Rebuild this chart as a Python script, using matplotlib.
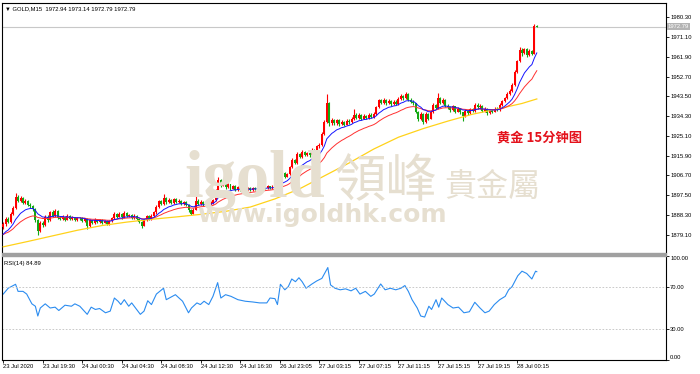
import matplotlib
matplotlib.use('Agg')
import matplotlib.pyplot as plt
from matplotlib.patches import Rectangle
import matplotlib.transforms as mtrans

W, H = 700, 374

# 15-minute gold bars, 23 Jul 15:30 .. 28 Jul 02:15
closes = [
    1884.0, 1886.5, 1885.2, 1889.0, 1891.5, 1896.8, 1895.0, 1896.2, 1894.0, 1894.8,
    1893.0, 1892.5, 1891.0, 1886.0, 1881.0, 1884.5, 1883.5, 1887.5, 1886.0, 1889.5,
    1888.0, 1890.0, 1887.0, 1886.5, 1887.5, 1886.2, 1887.8, 1886.5, 1887.2, 1886.0,
    1887.0, 1886.8, 1885.6, 1886.4, 1883.0, 1885.8, 1884.6, 1886.2, 1885.0, 1886.0,
    1884.8, 1885.5, 1884.2, 1885.6, 1886.8, 1889.0, 1887.6, 1888.8, 1887.2, 1889.4,
    1887.8, 1888.3, 1887.0, 1888.0, 1886.4, 1885.2, 1883.4, 1885.8, 1887.8, 1886.6,
    1888.0, 1889.5, 1892.0, 1894.6, 1893.5, 1896.0, 1894.2, 1895.4, 1894.0, 1895.6,
    1894.4, 1895.0, 1893.6, 1894.2, 1893.0, 1890.5, 1889.0, 1890.8, 1895.0, 1893.6,
    1894.5, 1893.2, 1894.4, 1893.0, 1894.0, 1895.2, 1899.5, 1904.6, 1902.0, 1903.0,
    1901.2, 1902.5, 1900.6, 1901.8, 1900.0, 1901.4, 1900.2, 1901.0, 1899.8, 1900.8,
    1900.0, 1900.9, 1900.4, 1901.2, 1900.6, 1901.4, 1900.8, 1901.6, 1901.0, 1901.8,
    1901.2, 1902.0, 1906.8, 1908.0, 1906.2, 1907.4, 1910.5, 1913.8, 1912.6, 1916.5,
    1915.2, 1917.8, 1916.4, 1917.0, 1916.0, 1918.6, 1917.6, 1920.2, 1921.0, 1926.0,
    1931.5, 1940.5, 1931.0, 1932.6, 1931.0, 1932.4, 1930.6, 1931.8, 1930.4, 1932.2,
    1931.4, 1933.0, 1935.0, 1933.6, 1934.8, 1933.2, 1934.6, 1933.4, 1935.0, 1934.0,
    1935.4, 1938.4, 1941.6, 1940.4, 1941.8, 1940.2, 1941.4, 1939.8, 1941.0, 1940.0,
    1942.2, 1943.8, 1942.6, 1944.6, 1942.0, 1941.0, 1940.2, 1936.4, 1933.0, 1935.2,
    1931.6, 1935.4, 1933.2, 1936.0, 1939.4, 1938.2, 1942.6, 1940.4, 1941.8, 1939.0,
    1938.6, 1937.0, 1938.8, 1936.4, 1937.6, 1936.0, 1934.2, 1936.6, 1935.6, 1937.4,
    1936.8, 1939.6, 1938.4, 1939.2, 1936.6, 1937.6, 1935.8, 1937.0, 1936.4, 1937.8,
    1937.2, 1939.4, 1941.2, 1942.6, 1944.8, 1946.0, 1948.8, 1954.8, 1959.8, 1965.0,
    1963.6, 1965.4, 1962.8, 1964.6, 1963.4, 1976.3, 1975.9,
]
highs = [
    1885.0, 1887.2, 1887.4, 1889.8, 1892.4, 1898.4, 1897.6, 1897.0, 1896.8, 1895.6,
    1895.4, 1893.8, 1893.0, 1891.6, 1886.6, 1885.4, 1885.6, 1888.4, 1888.2, 1890.2,
    1890.4, 1891.2, 1890.6, 1887.8, 1888.2, 1888.0, 1888.6, 1888.2, 1887.8, 1887.6,
    1887.6, 1887.5, 1887.2, 1887.0, 1886.8, 1886.4, 1886.2, 1886.8, 1886.6, 1886.6,
    1886.4, 1886.2, 1885.9, 1886.2, 1887.4, 1889.8, 1889.4, 1889.6, 1889.2, 1890.0,
    1889.8, 1889.0, 1888.8, 1888.6, 1888.4, 1886.8, 1885.6, 1886.4, 1888.4, 1888.2,
    1888.6, 1890.2, 1892.8, 1895.4, 1895.2, 1898.0, 1896.6, 1896.2, 1895.8, 1896.4,
    1896.0, 1895.8, 1895.4, 1894.8, 1894.6, 1893.4, 1891.0, 1891.4, 1897.0, 1895.6,
    1895.2, 1895.0, 1895.0, 1894.8, 1894.6, 1895.8, 1900.2, 1905.8, 1905.0, 1903.8,
    1903.4, 1903.2, 1902.8, 1902.4, 1902.2, 1902.0, 1901.8, 1901.6, 1901.4, 1901.4,
    1901.2, 1901.5, 1901.4, 1901.8, 1901.6, 1902.0, 1901.8, 1902.2, 1902.0, 1902.4,
    1902.2, 1902.6, 1910.2, 1908.8, 1908.4, 1908.0, 1911.2, 1914.6, 1914.4, 1917.4,
    1917.0, 1918.6, 1918.2, 1917.8, 1917.6, 1919.4, 1919.2, 1921.0, 1922.0, 1926.8,
    1932.6, 1944.8, 1941.0, 1933.6, 1933.2, 1933.2, 1932.8, 1932.6, 1932.2, 1933.0,
    1932.8, 1933.8, 1937.8, 1935.6, 1935.6, 1935.2, 1935.4, 1935.0, 1935.8, 1935.6,
    1936.2, 1939.2, 1942.4, 1942.2, 1942.6, 1942.2, 1942.2, 1941.8, 1941.8, 1941.6,
    1943.0, 1944.6, 1944.2, 1945.4, 1945.0, 1942.6, 1941.6, 1940.6, 1936.8, 1936.0,
    1935.6, 1936.2, 1935.8, 1936.8, 1940.2, 1940.0, 1945.3, 1943.2, 1942.6, 1942.2,
    1939.8, 1939.0, 1939.6, 1939.2, 1938.4, 1938.0, 1936.4, 1937.4, 1937.2, 1938.2,
    1938.0, 1940.4, 1940.2, 1940.0, 1939.6, 1938.4, 1938.0, 1937.8, 1937.6, 1938.6,
    1938.4, 1940.2, 1942.0, 1943.4, 1945.6, 1946.8, 1949.6, 1955.6, 1960.6, 1966.6,
    1965.8, 1966.2, 1965.8, 1965.4, 1965.2, 1977.2, 1976.6,
]
lows = [
    1881.8, 1883.4, 1884.6, 1884.8, 1888.4, 1891.0, 1894.2, 1894.4, 1893.4, 1893.2,
    1892.4, 1891.6, 1890.2, 1885.2, 1879.2, 1880.4, 1882.6, 1883.0, 1885.2, 1885.6,
    1887.4, 1887.6, 1886.4, 1885.8, 1886.0, 1885.6, 1885.8, 1886.0, 1885.9, 1885.4,
    1885.6, 1886.2, 1885.0, 1885.1, 1881.8, 1882.6, 1884.0, 1884.2, 1884.4, 1884.6,
    1884.2, 1884.4, 1883.6, 1883.8, 1885.2, 1886.4, 1887.0, 1887.2, 1886.6, 1886.8,
    1887.2, 1887.4, 1886.4, 1886.6, 1885.8, 1884.6, 1882.4, 1883.0, 1885.4, 1886.0,
    1886.2, 1887.6, 1889.0, 1891.6, 1892.8, 1893.0, 1893.6, 1893.8, 1893.4, 1893.6,
    1893.8, 1893.9, 1893.0, 1893.0, 1892.4, 1889.8, 1888.2, 1888.6, 1890.4, 1893.0,
    1893.0, 1892.6, 1892.8, 1892.4, 1892.6, 1893.6, 1894.8, 1899.0, 1901.4, 1901.6,
    1900.6, 1900.8, 1900.0, 1900.2, 1899.4, 1899.6, 1899.6, 1899.8, 1899.2, 1899.4,
    1899.4, 1899.6, 1899.8, 1900.0, 1900.1, 1900.2, 1900.3, 1900.4, 1900.5, 1900.6,
    1900.8, 1900.9, 1906.0, 1906.4, 1905.4, 1905.8, 1907.0, 1910.0, 1912.0, 1912.2,
    1914.6, 1914.8, 1915.8, 1915.8, 1915.4, 1915.6, 1917.0, 1917.2, 1919.6, 1920.6,
    1925.4, 1931.0, 1929.6, 1930.2, 1930.2, 1930.4, 1929.8, 1930.0, 1929.8, 1930.0,
    1930.8, 1931.0, 1932.6, 1933.0, 1933.2, 1932.6, 1932.8, 1932.8, 1933.0, 1933.4,
    1933.6, 1935.0, 1938.0, 1939.8, 1940.0, 1939.6, 1939.8, 1939.2, 1939.4, 1939.4,
    1939.6, 1941.8, 1942.0, 1942.2, 1941.4, 1940.4, 1939.6, 1935.8, 1932.2, 1932.6,
    1930.8, 1931.2, 1932.6, 1932.8, 1935.6, 1937.6, 1937.8, 1939.8, 1940.0, 1938.4,
    1937.8, 1936.4, 1936.6, 1935.8, 1936.0, 1935.4, 1932.2, 1933.8, 1935.0, 1935.2,
    1936.2, 1936.4, 1937.8, 1937.8, 1936.0, 1936.0, 1935.0, 1935.4, 1935.6, 1936.0,
    1936.6, 1936.8, 1939.0, 1940.8, 1942.2, 1944.2, 1945.6, 1948.4, 1954.2, 1959.4,
    1962.4, 1963.0, 1962.0, 1962.4, 1962.6, 1963.0, 1975.7,
]
first_open = 1882.5
weekend_bar = 112
weekend_open = 1909.6

opens = [first_open] + closes[:-1]
opens[weekend_bar] = weekend_open

# fast moving averages: (period, value before the first visible bar)
ma_blue = (11, 1878.4)
ma_red = (23, 1878.8)

# slow (yellow) moving average
yellow_bars = [0, 10, 20, 30, 40, 50, 60, 70, 80, 90, 100, 110, 120, 130, 140, 150,
               160, 170, 180, 190, 200, 210, 216]
yellow_vals = [1873.5, 1876.0, 1878.6, 1881.2, 1883.4, 1885.0, 1886.3, 1887.4, 1888.6,
               1890.0, 1892.0, 1895.8, 1900.5, 1906.5, 1912.5, 1919.0, 1924.5, 1928.5,
               1932.0, 1935.2, 1937.6, 1940.2, 1942.3]

# RSI(14)
rsi_bars = [0, 2, 5, 6, 8, 9.5, 11.6, 13, 14, 15, 17, 19, 21, 22.5, 25, 27.6, 29, 31, 34,
            35.6, 37.3, 39, 41.4, 43.3, 45, 46.5, 47.6, 49, 50.8, 52, 54, 55.5, 57, 58.5,
            60, 62, 64.9, 66, 69.7, 72.6, 75, 76.2, 78.4, 79.8, 81.3, 83.2, 84.9, 86.8,
            88.1, 90, 92.2, 95, 98, 101, 103.8, 106.7, 108, 110, 111, 112.2, 114, 115.4,
            116.8, 118.3, 119.7, 121, 122.6, 124.8, 126.9, 129, 131.4, 132.5, 134.3,
            136.4, 138.6, 140.8, 142.7, 144.4, 146.6, 148.8, 150.2, 152.8, 154.6, 156.7,
            158.9, 161, 162.6, 164, 165.5, 167.6, 169, 170.6, 172.3, 173.4, 175.2, 176.3,
            177.5, 180, 182.1, 184.3, 186.5, 188.7, 190.9, 193, 195, 196.7, 198.8, 201,
            203.2, 204.6, 206, 208.3, 210, 211.9, 214, 215.5, 216]
rsi_vals = [63.4, 69, 72.8, 66, 66, 63.4, 54, 51.7, 42.3, 50, 54, 50, 50.8, 47.6, 52.7,
            51.7, 54, 51.7, 43.9, 50.8, 48.6, 49.5, 45.4, 47, 59.6, 56.5, 53.3, 58, 51.7,
            54.9, 48.6, 43.9, 47, 57, 53.3, 63.4, 69, 58, 62.8, 56.5, 45.4, 50, 54.9, 53.3,
            56.5, 53.3, 61.2, 74.4, 59.6, 62.8, 61.2, 58, 56.5, 55.8, 54.9, 54.9, 59.6, 59,
            53.3, 72.8, 67.5, 70.6, 77.9, 75.3, 79.1, 75.3, 69, 72.8, 76, 78.5, 88.9, 72.2,
            69, 67.5, 68.4, 66.5, 69, 63.4, 66, 61.2, 63.4, 73.1, 67.5, 69, 67.5, 69, 71.6,
            66, 58, 50, 42.3, 41.3, 51.7, 48.6, 58, 50.8, 59.6, 53.3, 50, 50.8, 45.4, 46.4,
            55.5, 50, 45.4, 47, 53.3, 58, 61.2, 67.5, 70.6, 81, 85.4, 83.2, 77.9, 85.4, 84.9]

price_ticks = [1980.30, 1971.10, 1961.90, 1952.70, 1943.50, 1934.30, 1925.10,
               1915.90, 1906.70, 1897.50, 1888.30, 1879.10]
rsi_ticks = [100, 70, 30, 0]
time_labels = ['23 Jul 2020', '23 Jul 19:30', '24 Jul 00:30', '24 Jul 04:30',
               '24 Jul 08:30', '24 Jul 12:30', '24 Jul 16:30', '26 Jul 23:05',
               '27 Jul 03:15', '27 Jul 07:15', '27 Jul 11:15', '27 Jul 15:15',
               '27 Jul 19:15', '28 Jul 00:15']
label_step = 16


def ema(values, period, seed):
    k = 2.0 / (period + 1)
    out = []
    prev = seed
    for v in values:
        prev = prev + k * (v - prev)
        out.append(prev)
    return out


SMALL = ['Liberation Sans', 'DejaVu Sans']
UP, DOWN = '#ff0000', '#13a813'

fig = plt.figure(figsize=(W / 100, H / 100), dpi=100)
fig.patch.set_facecolor('white')

ax = fig.add_axes([2 / W, 1 - 253 / H, 664 / W, 250 / H])
axr = fig.add_axes([2 / W, 1 - 360 / H, 664 / W, 104 / H])

n = len(closes)
xs = list(range(n))
for a in (ax, axr):
    a.set_xlim(-0.5, 268.3)
    for s in a.spines.values():
        s.set_linewidth(0.8)
        s.set_color('black')
ax.patch.set_alpha(0)


def fig_text(x, y, s, **kw):
    fig.text(x / W, 1 - y / H, s, **kw)


# watermark, beneath the candles
wm = '#e6dfd0'
fig_text(184, 197, 'igold', fontsize=48, family='Liberation Serif', weight='bold',
         color=wm, va='baseline', zorder=0)
fig_text(334, 197, '領峰', fontsize=37, family=['Noto Sans CJK TC'], color=wm,
         va='baseline', zorder=0)
fig_text(444, 196, '貴金屬', fontsize=23, family=['Noto Sans CJK TC'], color=wm,
         va='baseline', zorder=0)
fig_text(197, 222, 'www.igoldhk.com', fontsize=18, family='DejaVu Sans', weight='bold',
         color=wm, va='baseline', zorder=0)

# candles
colors = [UP if c >= o else DOWN for o, c in zip(opens, closes)]
ax.vlines(xs, lows, highs, colors=colors, linewidth=0.8, zorder=3)
bottoms = [min(o, c) for o, c in zip(opens, closes)]
heights = [max(abs(c - o), 0.3) for o, c in zip(opens, closes)]
ax.bar(xs, heights, bottom=bottoms, width=0.8, color=colors, linewidth=0, zorder=4)

ax.plot(yellow_bars, yellow_vals, color='#ffd21a', lw=0.9, zorder=5)
ax.plot(xs, ema(closes, *ma_red), color='#ff3030', lw=0.7, zorder=5)
ax.plot(xs, ema(closes, *ma_blue), color='#1414ff', lw=0.7, zorder=5)

ax.set_ylim(1870.62, 1986.95)
ax.axhline(closes[-1], color='#c8c8c8', lw=0.8, zorder=2)
ax.yaxis.tick_right()
ax.set_yticks(price_ticks)
ax.set_yticklabels(['%.2f' % t for t in price_ticks])
ax.tick_params(axis='y', direction='out', length=2, width=0.6, pad=1, labelsize=4.2)
for t in ax.get_yticklabels():
    t.set_family(SMALL)
ax.set_xticks([])
ax.spines['bottom'].set_visible(False)

trans = mtrans.blended_transform_factory(ax.transAxes, ax.transData)
ax.text(1.003, closes[-1], '1972.79', transform=trans, fontsize=4.2, family=SMALL,
        color='white', va='center', ha='left',
        bbox=dict(boxstyle='square,pad=0.15', fc='#b4b4b4', ec='none'))

ax.text(0.005, 0.985, '\u25bc GOLD,M15  1972.94 1973.14 1972.79 1972.79',
        transform=ax.transAxes, fontsize=4.2, family=SMALL, va='top', ha='left')
fig_text(497, 138, '黄金 15分钟图', fontsize=9.5, weight='bold',
         family=['Noto Sans CJK SC', 'DejaVu Sans'], color='#e4121c', va='center',
         ha='left', zorder=6)

# RSI panel
axr.plot(rsi_bars, rsi_vals, color='#2b8cf0', lw=0.8)
for lvl in (70, 30):
    axr.axhline(lvl, color='#c0c0c0', lw=0.6, ls=(0, (2, 2)))
axr.set_ylim(0, 100)
axr.yaxis.tick_right()
axr.set_yticks(rsi_ticks)
axr.set_yticklabels(['%.2f' % t for t in rsi_ticks])
axr.tick_params(axis='y', direction='out', length=2, width=0.6, pad=1, labelsize=4.2)
ylabs = axr.get_yticklabels()
for t in ylabs:
    t.set_family(SMALL)
ylabs[0].set_va('top')
ylabs[-1].set_va('bottom')
axr.spines['top'].set_visible(False)
axr.text(0.003, 0.95, 'RSI(14) 84.89', transform=axr.transAxes, fontsize=4.2,
         family=SMALL, va='top', ha='left')

label_bars = [k * label_step for k in range(len(time_labels))]
axr.set_xticks(label_bars)
axr.set_xticklabels(time_labels)
axr.tick_params(axis='x', direction='out', length=2.5, width=0.6, pad=0.5, labelsize=4.2)
for t in axr.get_xticklabels():
    t.set_family(SMALL)
    t.set_ha('left')

fig.patches.append(Rectangle((2 / W, 1 - 256 / H), 664 / W, 3 / H,
                             transform=fig.transFigure, color='#a0a0a0', zorder=5))

fig.savefig('out.png', dpi=100)
